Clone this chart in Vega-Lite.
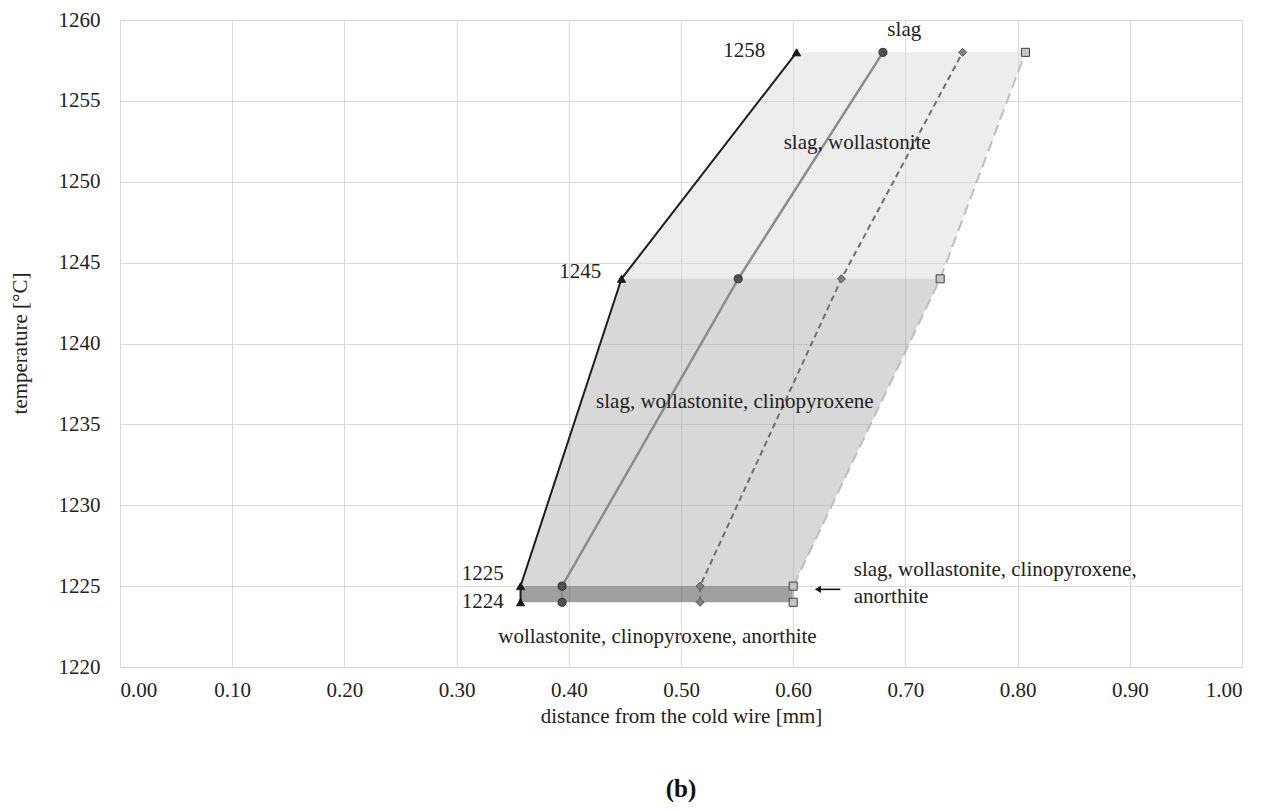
{
  "$schema": "https://vega.github.io/schema/vega-lite/v6.json",
  "width": 1122,
  "height": 647,
  "autosize": {"type": "none"},
  "padding": {"left": 120, "top": 20, "right": 27, "bottom": 144},
  "background": "white",
  "config": {
    "font": "Liberation Serif, Times New Roman, DejaVu Serif, serif",
    "view": {"stroke": null},
    "text": {"font": "Liberation Serif, Times New Roman, DejaVu Serif, serif"},
    "axis": {
      "grid": true,
      "gridColor": "#d9d9d9",
      "gridWidth": 1,
      "domain": false,
      "ticks": false,
      "labelFont": "Liberation Serif, Times New Roman, DejaVu Serif, serif",
      "labelFontSize": 21,
      "labelColor": "#222222",
      "titleFont": "Liberation Serif, Times New Roman, DejaVu Serif, serif",
      "titleFontSize": 21,
      "titleFontWeight": "normal",
      "titleColor": "#222222"
    }
  },
  "title": {
    "text": "(b)",
    "orient": "bottom",
    "anchor": "middle",
    "font": "Liberation Serif, Times New Roman, DejaVu Serif, serif",
    "fontSize": 25,
    "fontWeight": "bold",
    "color": "#111111",
    "offset": 51
  },
  "datasets": {
    "regions": [
      {"region": "top", "y": 1244, "xl": 0.447, "xr": 0.731},
      {"region": "top", "y": 1258, "xl": 0.603, "xr": 0.807},
      {"region": "mid", "y": 1225, "xl": 0.357, "xr": 0.600},
      {"region": "mid", "y": 1244, "xl": 0.447, "xr": 0.731},
      {"region": "bottom", "y": 1224, "xl": 0.357, "xr": 0.600},
      {"region": "bottom", "y": 1225, "xl": 0.357, "xr": 0.600}
    ],
    "points": [
      {"series": "tri", "x": 0.603, "y": 1258},
      {"series": "tri", "x": 0.447, "y": 1244},
      {"series": "tri", "x": 0.357, "y": 1225},
      {"series": "tri", "x": 0.357, "y": 1224},
      {"series": "circ", "x": 0.680, "y": 1258},
      {"series": "circ", "x": 0.551, "y": 1244},
      {"series": "circ", "x": 0.394, "y": 1225},
      {"series": "circ", "x": 0.394, "y": 1224},
      {"series": "diam", "x": 0.751, "y": 1258},
      {"series": "diam", "x": 0.643, "y": 1244},
      {"series": "diam", "x": 0.517, "y": 1225},
      {"series": "diam", "x": 0.517, "y": 1224},
      {"series": "sq", "x": 0.807, "y": 1258},
      {"series": "sq", "x": 0.731, "y": 1244},
      {"series": "sq", "x": 0.600, "y": 1225},
      {"series": "sq", "x": 0.600, "y": 1224}
    ],
    "labelsRight": [
      {"text": "1258", "x": 0.575, "y": 1258.1},
      {"text": "1245", "x": 0.429, "y": 1244.4},
      {"text": "1225", "x": 0.342, "y": 1225.75},
      {"text": "1224", "x": 0.342, "y": 1224.0}
    ],
    "labelsCenter": [
      {"text": "slag", "x": 0.699, "y": 1259.4},
      {"text": "slag, wollastonite", "x": 0.657, "y": 1252.4},
      {"text": "slag, wollastonite, clinopyroxene", "x": 0.548, "y": 1236.4},
      {"text": "wollastonite, clinopyroxene, anorthite", "x": 0.479, "y": 1221.85}
    ],
    "labelsLeft": [
      {"text": "slag, wollastonite, clinopyroxene,", "x": 0.654, "y": 1226.0},
      {"text": "anorthite", "x": 0.654, "y": 1224.33}
    ],
    "arrow": [
      {"x": 0.642, "x2": 0.622, "y": 1224.8}
    ]
  },
  "encoding": {
    "y": {"field": "y", "type": "quantitative", "scale": {"domain": [1220, 1260], "nice": false, "zero": false}, "axis": {"values": [1220, 1225, 1230, 1235, 1240, 1245, 1250, 1255, 1260], "format": "d", "labelPadding": 20, "title": "temperature [°C]", "titleX": -100, "titleY": 323, "titleAngle": -90, "titleAlign": "center", "titleBaseline": "middle"}}
  },
  "layer": [
    {
      "data": {"name": "regions"},
      "transform": [{"filter": "datum.region === 'top'"}],
      "mark": {"type": "area", "orient": "horizontal", "color": "#d6d6d6", "opacity": 0.45},
      "encoding": {
        "x": {"field": "xl", "type": "quantitative", "scale": {"domain": [0, 1], "nice": false}, "axis": {"values": [0, 0.1, 0.2, 0.3, 0.4, 0.5, 0.6, 0.7, 0.8, 0.9, 1.0], "format": ".2f", "labelPadding": 12, "title": "distance from the cold wire [mm]", "titleX": 561, "titleY": 49, "titleAlign": "center", "titleBaseline": "middle"}},
        "x2": {"field": "xr"}
      }
    },
    {
      "data": {"name": "regions"},
      "transform": [{"filter": "datum.region === 'mid'"}],
      "mark": {"type": "area", "orient": "horizontal", "color": "#a8a8a8", "opacity": 0.45},
      "encoding": {
        "x": {"field": "xl", "type": "quantitative"},
        "x2": {"field": "xr"}
      }
    },
    {
      "data": {"name": "regions"},
      "transform": [{"filter": "datum.region === 'bottom'"}],
      "mark": {"type": "area", "orient": "horizontal", "color": "#333333", "opacity": 0.47},
      "encoding": {
        "x": {"field": "xl", "type": "quantitative"},
        "x2": {"field": "xr"}
      }
    },
    {
      "data": {"name": "points"},
      "transform": [{"filter": "datum.series === 'sq'"}],
      "mark": {"type": "line", "color": "#bdbdbd", "strokeWidth": 2, "strokeDash": [11, 6]},
      "encoding": {
        "x": {"field": "x", "type": "quantitative"},
        "order": {"field": "y", "type": "quantitative"}
      }
    },
    {
      "data": {"name": "points"},
      "transform": [{"filter": "datum.series === 'diam'"}],
      "mark": {"type": "line", "color": "#6e6e6e", "strokeWidth": 2, "strokeDash": [6, 4]},
      "encoding": {
        "x": {"field": "x", "type": "quantitative"},
        "order": {"field": "y", "type": "quantitative"}
      }
    },
    {
      "data": {"name": "points"},
      "transform": [{"filter": "datum.series === 'circ'"}],
      "mark": {"type": "line", "color": "#8c8c8c", "strokeWidth": 2.5},
      "encoding": {
        "x": {"field": "x", "type": "quantitative"},
        "order": {"field": "y", "type": "quantitative"}
      }
    },
    {
      "data": {"name": "points"},
      "transform": [{"filter": "datum.series === 'tri'"}],
      "mark": {"type": "line", "color": "#1e1e1e", "strokeWidth": 2},
      "encoding": {
        "x": {"field": "x", "type": "quantitative"},
        "order": {"field": "y", "type": "quantitative"}
      }
    },
    {
      "data": {"name": "points"},
      "mark": {"type": "point", "filled": false, "opacity": 1, "strokeWidth": 1},
      "encoding": {
        "x": {"field": "x", "type": "quantitative"},
        "shape": {"field": "series", "type": "nominal", "legend": null, "scale": {"domain": ["tri", "circ", "diam", "sq"], "range": ["triangle-up", "circle", "diamond", "square"]}},
        "fill": {"field": "series", "type": "nominal", "legend": null, "scale": {"domain": ["tri", "circ", "diam", "sq"], "range": ["#1a1a1a", "#505050", "#808080", "#c4c4c4"]}},
        "stroke": {"field": "series", "type": "nominal", "legend": null, "scale": {"domain": ["tri", "circ", "diam", "sq"], "range": ["#1a1a1a", "#333333", "#555555", "#404040"]}},
        "size": {"field": "series", "type": "nominal", "legend": null, "scale": {"domain": ["tri", "circ", "diam", "sq"], "range": [65, 65, 60, 60]}}
      }
    },
    {
      "data": {"name": "labelsRight"},
      "mark": {"type": "text", "align": "right", "baseline": "middle", "fontSize": 21, "color": "#222222"},
      "encoding": {
        "x": {"field": "x", "type": "quantitative"},
        "text": {"field": "text"}
      }
    },
    {
      "data": {"name": "labelsCenter"},
      "mark": {"type": "text", "align": "center", "baseline": "middle", "fontSize": 21, "color": "#222222"},
      "encoding": {
        "x": {"field": "x", "type": "quantitative"},
        "text": {"field": "text"}
      }
    },
    {
      "data": {"name": "labelsLeft"},
      "mark": {"type": "text", "align": "left", "baseline": "middle", "fontSize": 21, "color": "#222222"},
      "encoding": {
        "x": {"field": "x", "type": "quantitative"},
        "text": {"field": "text"}
      }
    },
    {
      "data": {"name": "arrow"},
      "mark": {"type": "rule", "color": "#111111", "strokeWidth": 1.6},
      "encoding": {
        "x": {"field": "x", "type": "quantitative"},
        "x2": {"field": "x2"}
      }
    },
    {
      "data": {"name": "arrow"},
      "mark": {"type": "point", "shape": "triangle-left", "filled": true, "color": "#111111", "size": 50, "opacity": 1},
      "encoding": {
        "x": {"field": "x2", "type": "quantitative"}
      }
    }
  ]
}
